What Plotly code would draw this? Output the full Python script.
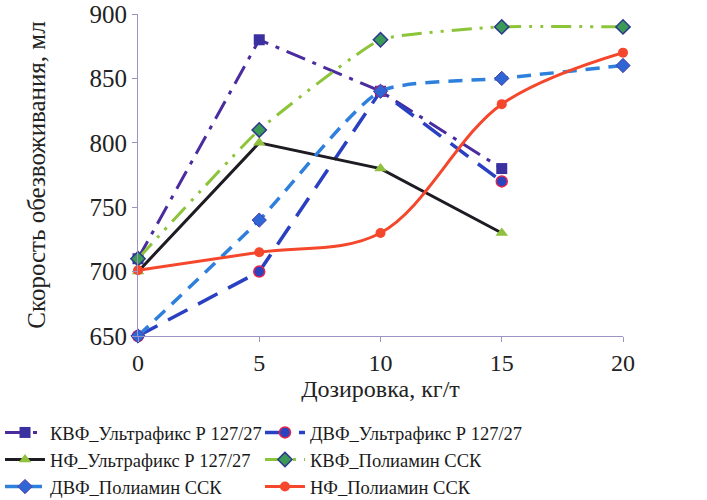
import plotly.graph_objects as go

# Dosage (kg/t) and dewatering rate (ml) for each flocculant / fraction
dose_short = [0, 5, 10, 15]
dose_long = [0, 5, 10, 15, 20]

kvf_ultrafix = [710, 880, 840, 780]
dvf_ultrafix = [650, 700, 840, 770]
nf_ultrafix = [700, 800, 780, 730]
kvf_poliamin = [710, 810, 880, 890, 890]
dvf_poliamin = [650, 740, 840, 850, 860]
nf_poliamin = [701, 715, 730, 830, 870]

x_ticks = [0, 5, 10, 15, 20]
y_ticks = [650, 700, 750, 800, 850, 900]

FONT = "Liberation Serif, Times New Roman, serif"
AXIS_COLOR = "#9C94C4"

fig = go.Figure()

# left legend column: legend, right legend column: legend2
fig.add_trace(go.Scatter(
    x=dose_short, y=kvf_ultrafix, name="КВФ_Ультрафикс Р 127/27",
    mode="lines+markers", legend="legend",
    line=dict(color="#4A2C9E", width=3, dash="20px,8px,4px,8px"),
    marker=dict(symbol="square", size=11, color="#3B30A0"),
))
fig.add_trace(go.Scatter(
    x=dose_short, y=dvf_ultrafix, name="ДВФ_Ультрафикс Р 127/27",
    mode="lines+markers", legend="legend2",
    line=dict(color="#2A40C2", width=3.5, dash="22px,12px"),
    marker=dict(symbol="circle", size=11, color="#2A44C0",
                line=dict(color="#E5224E", width=1.5)),
))
fig.add_trace(go.Scatter(
    x=dose_short, y=nf_ultrafix, name="НФ_Ультрафикс Р 127/27",
    mode="lines+markers", legend="legend",
    line=dict(color="#1E1C22", width=3),
    marker=dict(symbol="triangle-up", size=11, color="#8FC03E"),
))
fig.add_trace(go.Scatter(
    x=dose_long, y=kvf_poliamin, name="КВФ_Полиамин ССК",
    mode="lines+markers", legend="legend2",
    line=dict(color="#8CC43A", width=3, dash="20px,8px,3px,8px,3px,8px",
              shape="spline", smoothing=0.4),
    marker=dict(symbol="diamond", size=11, color="#3C9A58",
                line=dict(color="#2C3A8C", width=1.5)),
))
fig.add_trace(go.Scatter(
    x=dose_long, y=dvf_poliamin, name="ДВФ_Полиамин ССК",
    mode="lines+markers", legend="legend",
    line=dict(color="#2F80DC", width=3.5, dash="14px,9px",
              shape="spline", smoothing=0.6),
    marker=dict(symbol="diamond", size=11, color="#2F66D4",
                line=dict(color="#4A3AA8", width=1)),
))
fig.add_trace(go.Scatter(
    x=dose_long, y=nf_poliamin, name="НФ_Полиамин ССК",
    mode="lines+markers", legend="legend2",
    line=dict(color="#F4472C", width=3, shape="spline", smoothing=1),
    marker=dict(symbol="circle", size=10, color="#F4472C"),
))

fig.update_traces(cliponaxis=False)

legend_common = dict(
    orientation="v",
    xref="paper", yref="paper",
    xanchor="left", y=-0.242, yanchor="top",
    font=dict(family=FONT, size=18.5, color="#1A1A1A"),
    itemwidth=40, tracegroupgap=0,
    bgcolor="rgba(0,0,0,0)",
)

fig.update_layout(
    width=707, height=500,
    margin=dict(l=138, r=84, t=14, b=164, autoexpand=False),
    paper_bgcolor="white", plot_bgcolor="white",
    font=dict(family=FONT, size=24, color="#222222"),
    showlegend=True,
    legend=dict(x=-0.2845, **legend_common),
    legend2=dict(x=0.2515, **legend_common),
)

fig.update_xaxes(
    range=[0, 20], tickvals=x_ticks, ticktext=[str(v) for v in x_ticks],
    showgrid=False, zeroline=False,
    showline=True, linecolor=AXIS_COLOR, linewidth=1,
    ticks="outside", ticklen=5, tickcolor=AXIS_COLOR,
    tickfont=dict(family=FONT, size=24),
    title=dict(text="Дозировка, кг/т", font=dict(family=FONT, size=24), standoff=3),
)
fig.update_yaxes(
    range=[650, 900], tickvals=y_ticks, ticktext=[str(v) for v in y_ticks],
    showgrid=False, zeroline=False,
    showline=True, linecolor=AXIS_COLOR, linewidth=1,
    ticks="outside", ticklen=5, tickcolor=AXIS_COLOR,
    tickfont=dict(family=FONT, size=25),
    title=dict(text="Скорость обезвоживания, мл", font=dict(family=FONT, size=25), standoff=36),
)

fig.write_html("out.html")
